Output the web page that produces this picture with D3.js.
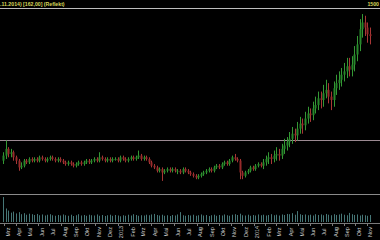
<!DOCTYPE html>
<html>
<head>
<meta charset="utf-8">
<script src="https://cdn.jsdelivr.net/npm/d3@7"></script>
<style>
  html, body { margin: 0; padding: 0; background: #000; }
  svg { display: block; }
</style>
</head>
<body>
<div id="chart"></div>
<script>
var width = 380, height = 240;

// weekly candles, 27.02.2012 - 10.11.2014
var opens = [
  88,91,95,92,93,90,88,84,85,88,
  87,89,88,89,88,90,89,88,89,90,
  89,88,89,88,87,86,87,86,85,86,
  87,86,87,88,87,88,89,88,90,89,
  88,89,88,89,89,88,90,89,88,89,
  90,89,90,91,89,90,89,87,85,84,
  82,83,81,82,83,82,83,82,82,81,
  83,82,81,80,79,78,79,80,81,82,
  83,82,84,85,84,86,87,86,88,90,
  89,88,81,79,81,82,84,83,85,86,
  85,87,89,90,89,91,92,91,95,97,
  99,101,104,103,107,110,109,113,116,115,
  119,121,125,124,128,130,126,124,131,134,
  136,139,141,144,142,145,151,157,166,170,
  167,163];
var closes = [
  91,95,92,93,90,88,84,85,88,87,
  89,88,89,88,90,89,88,89,90,89,
  88,89,88,87,86,87,86,85,86,87,
  86,87,88,87,88,89,88,90,89,88,
  89,88,89,89,88,90,89,88,89,90,
  89,90,91,89,90,89,87,85,84,82,
  83,81,82,83,82,83,82,82,81,83,
  82,81,80,79,78,79,80,81,82,83,
  82,84,85,84,86,87,86,88,90,89,
  88,81,79,81,82,84,83,85,86,85,
  87,89,90,89,91,92,91,95,97,99,
  101,104,103,107,110,109,113,116,115,119,
  121,125,124,128,130,126,124,131,134,136,
  139,141,144,142,145,151,157,166,170,167,
  163,162];
var highs = [
  93,100,96,95,94,91,89,87,89,89,
  90,90,90,90,91,91,90,90,91,91,
  90,90,90,89,88,88,88,87,87,88,
  88,88,89,89,89,90,90,93,91,90,
  90,90,90,90,90,91,91,90,90,91,
  91,91,94,92,91,91,90,88,86,85,
  84,84,83,84,84,84,84,83,83,84,
  84,83,82,81,80,80,81,82,83,84,
  84,85,86,86,87,88,88,89,91,92,
  90,89,82,82,83,85,85,86,87,87,
  89,91,93,92,94,96,95,98,101,102,
  105,108,107,111,114,113,117,120,119,123,
  126,129,129,133,136,134,129,135,139,141,
  143,146,149,149,150,156,162,172,175,174,
  170,167];
var lows = [
  86,89,90,90,88,86,82,83,84,86,
  86,87,87,87,87,88,87,87,88,88,
  87,87,87,86,85,85,85,84,84,85,
  85,85,86,86,86,87,87,87,88,87,
  87,87,87,88,87,87,88,87,87,88,
  88,88,89,88,88,88,86,84,83,81,
  81,76,80,81,81,81,81,80,80,80,
  81,80,79,78,77,77,78,79,80,81,
  81,81,83,83,83,85,85,85,87,88,
  87,77,77,78,80,81,82,82,84,84,
  83,85,86,86,87,88,88,89,92,94,
  96,98,99,100,104,104,106,110,111,112,
  116,118,119,120,125,122,118,120,127,130,
  132,135,137,138,138,141,147,153,161,162,
  158,157];
var volumes = [
  96,52,44,36,40,33,38,30,34,28,
  32,30,27,31,26,29,25,28,30,26,
  24,27,25,29,26,24,28,23,26,30,
  25,27,24,28,26,25,29,24,27,23,
  26,28,24,27,25,22,26,24,28,25,
  30,27,24,26,25,28,26,29,31,27,
  25,28,24,26,23,27,25,29,38,26,
  24,27,25,28,24,26,29,25,27,23,
  26,28,24,27,25,29,26,24,28,30,
  27,32,26,25,28,24,27,25,29,26,
  28,25,27,30,26,28,25,29,27,31,
  30,34,28,42,30,27,29,26,28,25,
  30,27,29,26,31,28,26,30,27,29,
  32,28,26,35,30,27,29,25,28,26,
  24,27];

var monthLabels = ["Mrz","Apr","Mai","Jun","Jul","Aug","Sep","Okt","Nov","Dez","2013",
  "Feb","Mrz","Apr","Mai","Jun","Jul","Aug","Sep","Okt","Nov","Dez","2014",
  "Feb","Mrz","Apr","Mai","Jun","Jul","Aug","Sep","Okt","Nov"];
var levelLine = 100;
var headerText = ".11.2014) [162,00] (Reflekt)";
var cornerText = "1500";

var start = new Date(2012, 1, 27), end = new Date(2014, 10, 10);
var weeks = d3.timeMonday.range(start, d3.timeDay.offset(end, 1));
var data = weeks.map(function(d, i) {
  return {date: d, o: opens[i], c: closes[i], h: highs[i], l: lows[i], v: volumes[i]};
});
var months = d3.timeMonth.range(new Date(2012, 2, 1), new Date(2014, 10, 2));

var svg = d3.select("#chart").append("svg")
    .attr("width", width).attr("height", height)
    .style("background", "#000");

var x = d3.scaleTime().domain([start, end]).range([3, 370]);
var y = d3.scaleLinear().domain([70, 178]).range([191, 9]);
var yv = d3.scaleLinear().domain([0, 100]).range([222, 196]);

// header
svg.append("text").attr("x", 0).attr("y", 5.5)
    .attr("font-family", "Liberation Sans, Arial, sans-serif")
    .attr("font-size", 5.2).attr("font-weight", "bold")
    .attr("fill", "#d6d65a").text(headerText);
svg.append("text").attr("x", 379).attr("y", 5.5).attr("text-anchor", "end")
    .attr("font-family", "Liberation Sans, Arial, sans-serif")
    .attr("font-size", 5.2).attr("font-weight", "bold")
    .attr("fill", "#d6d65a").text(cornerText);

// frame lines
svg.append("line").attr("x1", 0).attr("x2", width).attr("y1", 8.5).attr("y2", 8.5)
    .attr("stroke", "#bdbdbd").attr("stroke-width", 1);
svg.append("line").attr("x1", 0).attr("x2", width).attr("y1", 194.5).attr("y2", 194.5)
    .attr("stroke", "#8a8a8a").attr("stroke-width", 1);
svg.append("line").attr("x1", 0).attr("x2", width)
    .attr("y1", Math.round(y(levelLine)) + 0.5).attr("y2", Math.round(y(levelLine)) + 0.5)
    .attr("stroke", "#9c8a92").attr("stroke-width", 1);

// candles
var candle = svg.append("g").selectAll("g").data(data).enter().append("g");
candle.append("line")
    .attr("x1", function(d) { return Math.round(x(d.date)) + 0.5; })
    .attr("x2", function(d) { return Math.round(x(d.date)) + 0.5; })
    .attr("y1", function(d) { return y(d.h); })
    .attr("y2", function(d) { return y(d.l); })
    .attr("stroke", function(d) { return d.c >= d.o ? "#349834" : "#a83636"; })
    .attr("stroke-width", 1);
candle.append("rect")
    .attr("x", function(d) { return Math.round(x(d.date)) - 0.5; })
    .attr("width", 2)
    .attr("y", function(d) { return y(Math.max(d.o, d.c)); })
    .attr("height", function(d) { return Math.max(1, Math.abs(y(d.o) - y(d.c))); })
    .attr("fill", function(d) { return d.c >= d.o ? "#26862a" : "#962a2a"; });

// volume
svg.append("g").selectAll("rect").data(data).enter().append("rect")
    .attr("x", function(d) { return Math.round(x(d.date)); })
    .attr("width", 1)
    .attr("y", function(d) { return yv(d.v); })
    .attr("height", function(d) { return yv(0) - yv(d.v); })
    .attr("fill", "#467676");

// time axis
svg.append("line").attr("x1", 0).attr("x2", width).attr("y1", 223.5).attr("y2", 223.5)
    .attr("stroke", "#7a7a7a");
svg.append("g").selectAll("line").data(months).enter().append("line")
    .attr("x1", function(d) { return Math.round(x(d)) + 0.5; })
    .attr("x2", function(d) { return Math.round(x(d)) + 0.5; })
    .attr("y1", 223).attr("y2", 226)
    .attr("stroke", "#7a7a7a");
svg.append("g").selectAll("text").data(months).enter().append("text")
    .attr("transform", function(d) { return "translate(" + (x(d) + 5.5) + ",232)rotate(-90)"; })
    .attr("text-anchor", "middle")
    .attr("font-family", "Liberation Sans, Arial, sans-serif")
    .attr("font-size", 5.5)
    .attr("fill", "#cfcfcf")
    .text(function(d, i) { return monthLabels[i]; });
</script>
</body>
</html>
